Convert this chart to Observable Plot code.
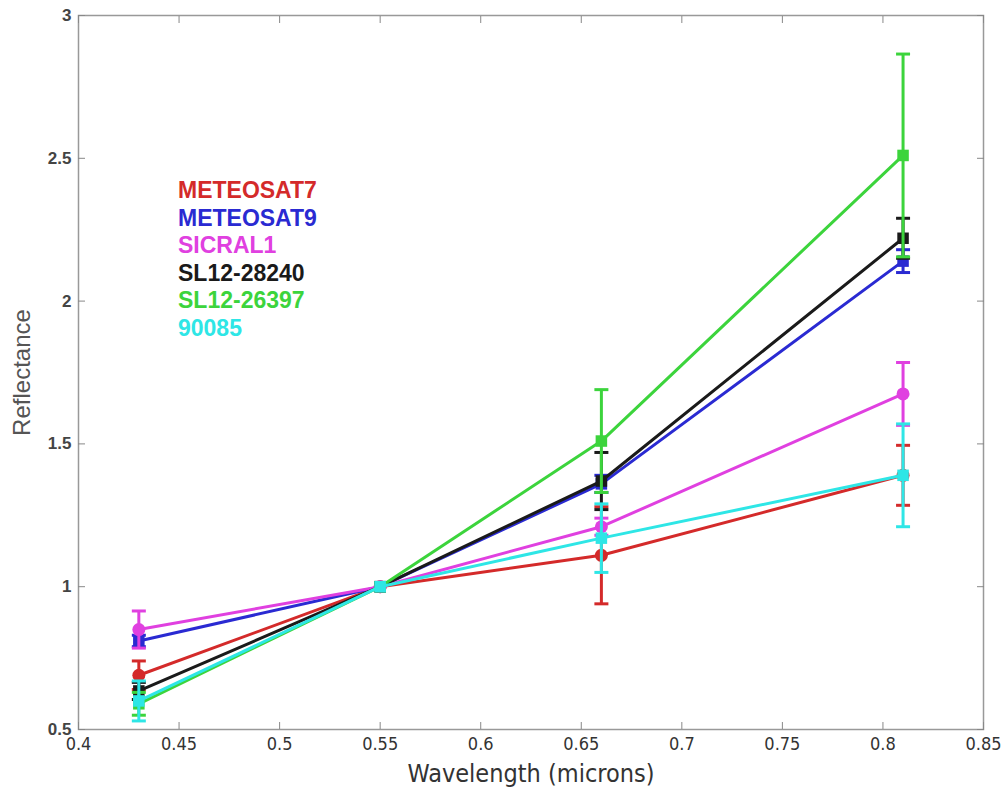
<!DOCTYPE html>
<html>
<head>
<meta charset="utf-8">
<script src="https://cdn.jsdelivr.net/npm/d3@7"></script>
<script src="https://cdn.jsdelivr.net/npm/@observablehq/plot@0.6"></script>
<style>
  body { margin: 0; background: #fff; }
  #chart { position: relative; width: 1003px; height: 796px; }
  #legend {
    position: absolute; left: 178px; top: 177px;
    font: bold 23px "Liberation Sans", Arial, sans-serif;
    line-height: 27.6px;
  }
</style>
</head>
<body>
<div id="chart"><div id="legend"></div></div>
<script>
// Band centre wavelengths (microns)
const wavelengths = [0.43, 0.55, 0.66, 0.81];

// Satellites, colours and marker shapes
const seriesNames = ["METEOSAT7", "METEOSAT9", "SICRAL1", "SL12-28240", "SL12-26397", "90085"];
const seriesColors = ["#d42a2a", "#2a2ad2", "#e040e0", "#1a1a1a", "#3cd43c", "#2ee6e6"];
const seriesSymbols = ["circle", "square", "circle", "square", "square", "square"];

// Normalised reflectance (1 at 0.55 µm) and its error
const meteosat7    = [0.69, 1, 1.11, 1.39];
const meteosat7Err = [0.05, 0, 0.17, 0.105];
const meteosat9    = [0.81, 1, 1.36, 2.14];
const meteosat9Err = [0.02, 0, 0.03, 0.04];
const sicral1      = [0.85, 1, 1.21, 1.675];
const sicral1Err   = [0.065, 0, 0.03, 0.11];
const sl28240      = [0.635, 1, 1.37, 2.22];
const sl28240Err   = [0.03, 0, 0.10, 0.07];
const sl26397      = [0.59, 1, 1.51, 2.51];
const sl26397Err   = [0.04, 0, 0.18, 0.355];
const obj90085     = [0.60, 1, 1.17, 1.39];
const obj90085Err  = [0.07, 0, 0.12, 0.18];

const seriesValues = [meteosat7, meteosat9, sicral1, sl28240, sl26397, obj90085];
const seriesErrors = [meteosat7Err, meteosat9Err, sicral1Err, sl28240Err, sl26397Err, obj90085Err];

// Axis ticks
const xTicks = [0.4, 0.45, 0.5, 0.55, 0.6, 0.65, 0.7, 0.75, 0.8, 0.85];
const xTickLabels = ["0.4", "0.45", "0.5", "0.55", "0.6", "0.65", "0.7", "0.75", "0.8", "0.85"];
const yTicks = [0.5, 1, 1.5, 2, 2.5, 3];
const yTickLabels = ["0.5", "1", "1.5", "2", "2.5", "3"];

const rows = seriesNames.map((name, s) =>
  wavelengths.map((w, i) => ({series: name, x: w, y: seriesValues[s][i], err: seriesErrors[s][i]}))
);

// Short horizontal bar used as the error-bar cap
const capSymbol = {
  draw(ctx, size) {
    const w = Math.sqrt(size / Math.PI);
    ctx.moveTo(-w, 0);
    ctx.lineTo(w, 0);
  }
};

const axisFont = {fontFamily: "'DejaVu Sans Condensed', 'Liberation Sans Narrow', 'Liberation Sans', Arial, sans-serif"};

const seriesMarks = rows.flatMap(data => {
  const bars = data.filter(d => d.err > 0);
  return [
    Plot.line(data, {x: "x", y: "y", stroke: "series", strokeWidth: 3}),
    Plot.ruleX(bars, {x: "x", y1: d => d.y - d.err, y2: d => d.y + d.err, stroke: "series", strokeWidth: 3}),
    Plot.dot(bars, {x: "x", y: d => d.y + d.err, symbol: capSymbol, r: 7, stroke: "series", strokeWidth: 3, fill: "none"}),
    Plot.dot(bars, {x: "x", y: d => d.y - d.err, symbol: capSymbol, r: 7, stroke: "series", strokeWidth: 3, fill: "none"}),
    Plot.dot(data, {x: "x", y: "y", symbol: "series", fill: "series", r: 6.5, stroke: "none"})
  ];
});

const chart = Plot.plot({
  width: 1003,
  height: 796,
  marginLeft: 78,
  marginRight: 20,
  marginTop: 15,
  marginBottom: 67,
  x: {domain: [0.4, 0.85]},
  y: {domain: [0.5, 3]},
  color: {domain: seriesNames, range: seriesColors},
  symbol: {domain: seriesNames, range: seriesSymbols},
  style: {background: "#fff", color: "#333"},
  marks: [
    Plot.frame({stroke: "#999", strokeWidth: 1.5}),
    Plot.axisY(yTicks, {anchor: "left", tickSize: -7, tickPadding: 14, stroke: "#888",
      tickFormat: (d, i) => yTickLabels[i], label: null, fontSize: 17, fontWeight: "bold",
      fill: "#444", fontFamily: "'Liberation Sans', Arial, sans-serif"}),
    Plot.axisY(yTicks, {anchor: "right", tickSize: -7, stroke: "#888", fill: "none", label: null}),
    Plot.axisX(xTicks, {anchor: "bottom", tickSize: -7, tickPadding: 15, stroke: "#888",
      tickFormat: (d, i) => xTickLabels[i], label: null, fontSize: 18, fill: "#333", ...axisFont}),
    Plot.axisX(xTicks, {anchor: "top", tickSize: -7, stroke: "#888", fill: "none", label: null}),
    Plot.text(["Wavelength (microns)"], {frameAnchor: "bottom", dy: 52, text: d => d,
      fontSize: 25, fill: "#333", ...axisFont}),
    Plot.text(["Reflectance"], {frameAnchor: "left", dx: -56, rotate: -90, textAnchor: "middle",
      text: d => d, fontSize: 24, fill: "#555", fontFamily: "'Liberation Sans', Arial, sans-serif"}),
    ...seriesMarks
  ]
});

const host = document.getElementById("chart");
host.insertBefore(chart, host.firstChild);

// Coloured series names, listed in the upper left of the plot area
const legend = d3.select("#legend");
seriesNames.forEach((name, i) => {
  legend.append("div").style("color", seriesColors[i]).text(name);
});
</script>
</body>
</html>
